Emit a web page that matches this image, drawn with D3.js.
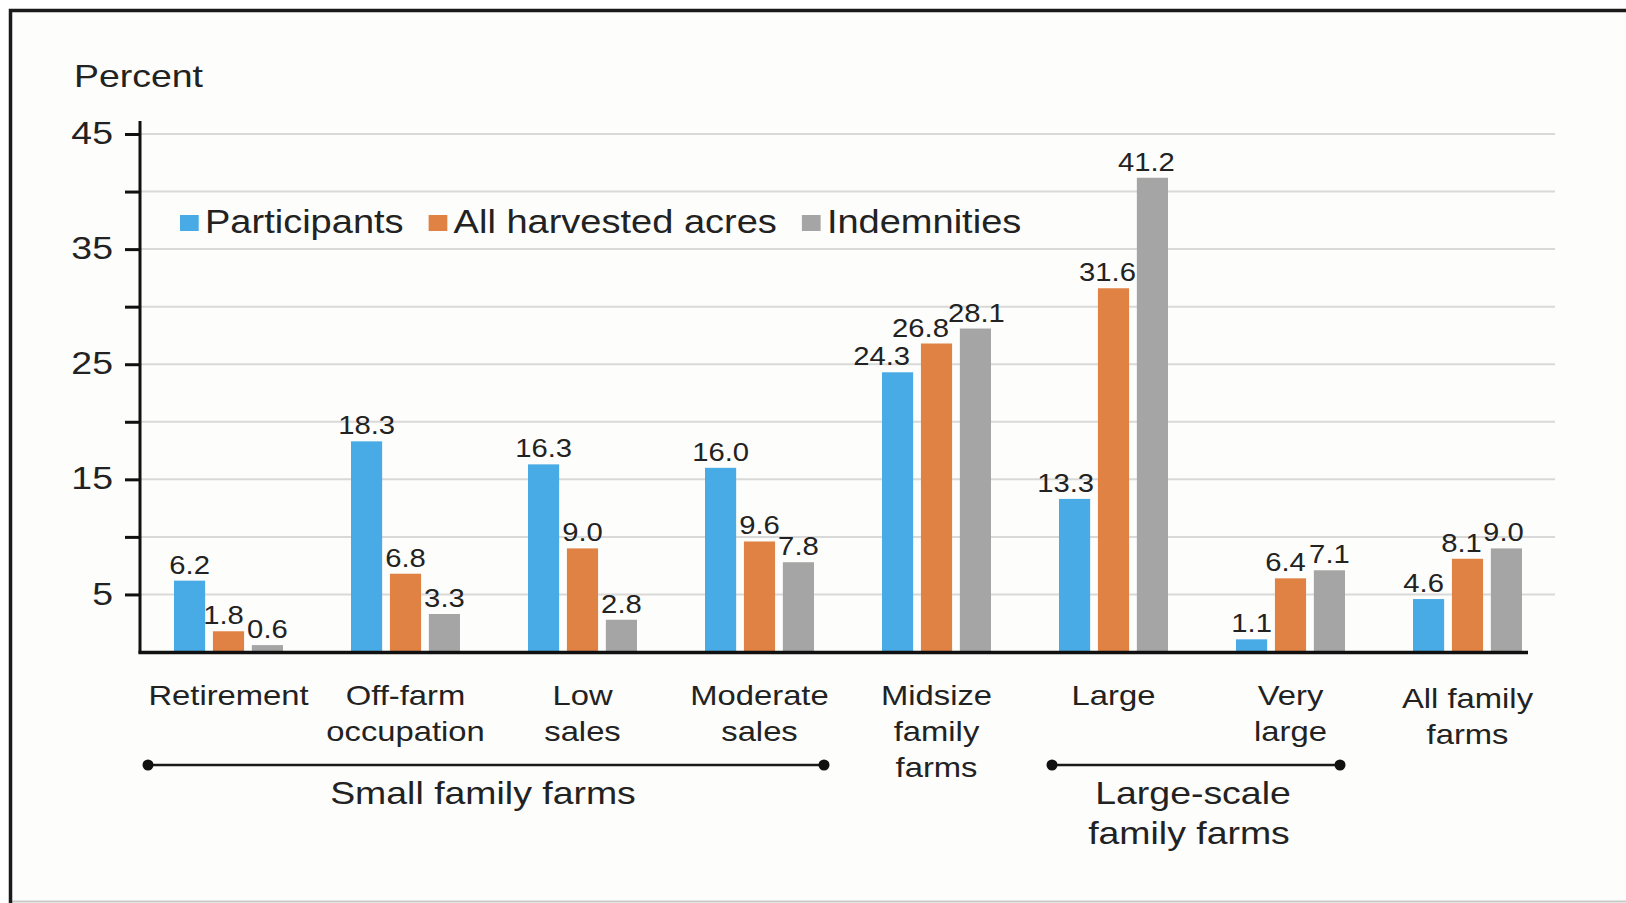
<!DOCTYPE html>
<html>
<head>
<meta charset="utf-8">
<script src="https://cdn.jsdelivr.net/npm/d3@7"></script>
<style>
  html, body { margin: 0; padding: 0; background: #fff; }
  svg { display: block; font-family: "Liberation Sans", Arial, sans-serif; }
</style>
</head>
<body>
<svg></svg>
<script>
var width = 1626;
var height = 903;

// data
var categories = [
  ['Retirement'],
  ['Off-farm', 'occupation'],
  ['Low', 'sales'],
  ['Moderate', 'sales'],
  ['Midsize', 'family', 'farms'],
  ['Large'],
  ['Very', 'large'],
  ['All family', 'farms']
];
var series = ['Participants', 'All harvested acres', 'Indemnities'];
var participants = [6.2, 18.3, 16.3, 16.0, 24.3, 13.3, 1.1, 4.6];
var harvestedAcres = [1.8, 6.8, 9.0, 9.6, 26.8, 31.6, 6.4, 8.1];
var indemnities = [0.6, 3.3, 2.8, 7.8, 28.1, 41.2, 7.1, 9.0];
var yTicks = [5, 10, 15, 20, 25, 30, 35, 40, 45];
var yLabels = [5, 15, 25, 35, 45];
var groupLabels = [
  { lines: ['Small family farms'], from: 0, to: 3 },
  { lines: ['Large-scale', 'family farms'], from: 5, to: 6 }
];

var values = [participants, harvestedAcres, indemnities];
var colors = ['#49abe6', '#e08244', '#a5a5a5'];
var ink = '#222';
var SX = 1.17; // source text is a little wider than Arial

// hand nudges for crowded value labels ("category-series": px)
var labelNudge = {
  '0-1': -5, '4-0': -16, '4-1': -16, '4-2': 1,
  '5-0': -9, '5-1': -6, '5-2': -6, '6-1': -5,
  '7-0': -5, '7-1': -6, '7-2': -3
};

var svg = d3.select('svg')
    .attr('width', width)
    .attr('height', height);

svg.append('rect')
    .attr('width', width).attr('height', height)
    .attr('fill', '#fff');
svg.append('rect')
    .attr('x', 10).attr('y', 10)
    .attr('width', width).attr('height', height)
    .attr('fill', '#fdfdfb');

var x0 = d3.scaleBand().domain(d3.range(categories.length)).range([140, 1556]);
var x1 = d3.scaleBand().domain(d3.range(series.length)).range([34, 143]).paddingInner(0.2);
var y = d3.scaleLinear().domain([0, 45]).range([652, 134]);

function wide(sel, x, yy) {
  return sel.attr('transform', `translate(${x},${yy}) scale(${SX},1)`);
}

// grid
svg.append('g').selectAll('line').data(yTicks)
  .enter().append('line')
    .attr('x1', 140).attr('x2', 1555)
    .attr('y1', d => y(d)).attr('y2', d => y(d))
    .attr('stroke', '#d9d9d9')
    .attr('stroke-width', 2);

// bars
var cells = [];
values.forEach((vals, s) => vals.forEach((v, i) => cells.push({ i: i, s: s, v: v })));

svg.append('g').selectAll('rect').data(cells)
  .enter().append('rect')
    .attr('x', d => x0(d.i) + x1(d.s))
    .attr('y', d => y(d.v))
    .attr('width', x1.bandwidth())
    .attr('height', d => y(0) - y(d.v))
    .attr('fill', d => colors[d.s]);

svg.append('g').selectAll('text').data(cells)
  .enter().append('text')
    .each(function(d) {
      var nudge = labelNudge[d.i + '-' + d.s] || 0;
      wide(d3.select(this), x0(d.i) + x1(d.s) + x1.bandwidth() / 2 + nudge, y(d.v) - 7);
    })
    .attr('text-anchor', 'middle')
    .attr('font-size', 25)
    .attr('fill', ink)
    .text(d => d.v.toFixed(1));

// y axis
var yAxis = svg.append('g')
    .attr('transform', 'translate(140,0)')
    .call(d3.axisLeft(y)
      .tickValues(yTicks)
      .tickSize(15)
      .tickFormat(d => yLabels.includes(d) ? d : ''));
yAxis.select('.domain').remove();
yAxis.selectAll('.tick line')
    .attr('stroke', '#111')
    .attr('stroke-width', 3);
yAxis.selectAll('.tick text')
    .attr('x', -27 / SX)
    .attr('dy', '0.3em')
    .attr('transform', `scale(${SX},1)`)
    .attr('font-size', 32)
    .attr('font-family', null)
    .attr('fill', ink);

svg.append('line')
    .attr('x1', 140).attr('x2', 140)
    .attr('y1', 121).attr('y2', y(0) + 1.5)
    .attr('stroke', '#111').attr('stroke-width', 3);

var lastBar = x0(categories.length - 1) + x1(series.length - 1) + x1.bandwidth();
svg.append('line')
    .attr('x1', 138.5).attr('x2', lastBar + 6)
    .attr('y1', y(0) + 0.5).attr('y2', y(0) + 0.5)
    .attr('stroke', '#111').attr('stroke-width', 3.5);

wide(svg.append('text'), 74, 87)
    .attr('font-size', 32)
    .attr('fill', ink)
    .text('Percent');

// legend
var legend = svg.append('g');
var lx = 180;
series.forEach((name, s) => {
  wide(legend.append('rect'), lx, 215)
      .attr('width', 16).attr('height', 16)
      .attr('fill', colors[s]);
  var t = wide(legend.append('text'), lx + 25, 233)
      .attr('font-size', 32.5)
      .attr('fill', ink)
      .text(name);
  lx += 25 + t.node().getComputedTextLength() * SX + 25;
});

// category labels
var catG = svg.append('g');
categories.forEach((lines, i) => {
  var cx = x0(i) + x0.bandwidth() / 2;
  var shift = i === categories.length - 1 ? 3 : 0;
  lines.forEach((line, k) => {
    wide(catG.append('text'), cx, 705 + shift + k * 36)
        .attr('text-anchor', 'middle')
        .attr('font-size', 28)
        .attr('fill', ink)
        .text(line);
  });
});

// group brackets
var bracketInset = [[8, 24], [27, 39]];
groupLabels.forEach((g, n) => {
  var a = x0(g.from) + bracketInset[n][0];
  var b = x0(g.to) + x0.bandwidth() - bracketInset[n][1];
  svg.append('line')
      .attr('x1', a).attr('x2', b)
      .attr('y1', 765).attr('y2', 765)
      .attr('stroke', '#1a1a1a').attr('stroke-width', 2.5);
  svg.selectAll(null).data([a, b])
    .enter().append('circle')
      .attr('cx', d => d).attr('cy', 765).attr('r', 5.5)
      .attr('fill', '#111');
  g.lines.forEach((line, k) => {
    wide(svg.append('text'), (a + b) / 2 - 3 - k * 4, 804 + k * 40)
        .attr('text-anchor', 'middle')
        .attr('font-size', 32)
        .attr('fill', ink)
        .text(line);
  });
});

// frame
svg.append('line')
    .attr('x1', 10).attr('x2', width)
    .attr('y1', 901.5).attr('y2', 901.5)
    .attr('stroke', '#c9c9c9').attr('stroke-width', 2);
svg.append('path')
    .attr('d', `M10.5,${height + 5}V10.5H${width + 5}`)
    .attr('fill', 'none')
    .attr('stroke', '#1a1a1a')
    .attr('stroke-width', 3.5);
</script>
</body>
</html>
